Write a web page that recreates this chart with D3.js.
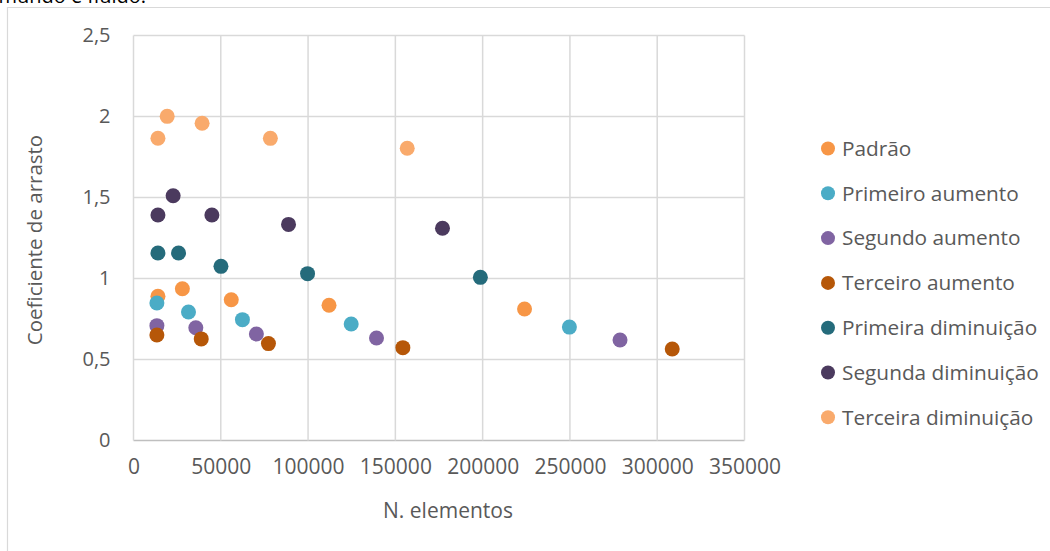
<!DOCTYPE html>
<html>
<head>
<meta charset="utf-8">
<script src="https://cdn.jsdelivr.net/npm/d3@7"></script>
<style>
  body { margin: 0; background: #fff; }
  svg text { font-family: "Open Sans", sans-serif; fill: #595959; }
</style>
</head>
<body>
<svg id="chart" width="1050" height="551"></svg>
<script>
// series names and colours
const seriesNames = ["Padrão", "Primeiro aumento", "Segundo aumento", "Terceiro aumento",
                     "Primeira diminuição", "Segunda diminuição", "Terceira diminuição"];
const seriesColors = ["#F79646", "#4BACC6", "#8064A2", "#B65708", "#256B7B", "#4B3A5E", "#F9AA6C"];

// x values (N. elementos) per series
const padraoX = [14000, 28000, 56000, 112000, 224000];
const primeiroAumentoX = [13400, 31500, 62400, 124700, 249700];
const segundoAumentoX = [13400, 35700, 70400, 139200, 278700];
const terceiroAumentoX = [13400, 38800, 77300, 154300, 308600];
const primeiraDiminuicaoX = [14000, 25800, 50100, 99700, 198700];
const segundaDiminuicaoX = [14000, 22700, 44900, 88800, 177000];
const terceiraDiminuicaoX = [14000, 19300, 39300, 78400, 156800];

// y values (coeficiente de arrasto) per series
const padraoY = [0.89, 0.937, 0.869, 0.835, 0.812];
const primeiroAumentoY = [0.849, 0.793, 0.746, 0.719, 0.70];
const segundoAumentoY = [0.709, 0.696, 0.657, 0.633, 0.62];
const terceiroAumentoY = [0.651, 0.627, 0.598, 0.573, 0.565];
const primeiraDiminuicaoY = [1.157, 1.157, 1.075, 1.03, 1.007];
const segundaDiminuicaoY = [1.392, 1.511, 1.392, 1.334, 1.31];
const terceiraDiminuicaoY = [1.866, 2.001, 1.958, 1.865, 1.804];

// tick labels
const xTicks = [0, 50000, 100000, 150000, 200000, 250000, 300000, 350000];
const yTicks = [0, 0.5, 1, 1.5, 2, 2.5];

const allX = [padraoX, primeiroAumentoX, segundoAumentoX, terceiroAumentoX,
              primeiraDiminuicaoX, segundaDiminuicaoX, terceiraDiminuicaoX];
const allY = [padraoY, primeiroAumentoY, segundoAumentoY, terceiroAumentoY,
              primeiraDiminuicaoY, segundaDiminuicaoY, terceiraDiminuicaoY];

let chart = d3.select("#chart");

// text cut off at the top of the page (only its lower part shows)
chart.append("text")
    .text("mundo e fluido.")
    .attr("x", 146)
    .attr("y", 3)
    .attr("text-anchor", "end")
    .style("font-size", "20px")
    .style("fill", "#000");

// chart area border (runs off the right and bottom)
chart.append("path")
    .attr("d", "M7.5,560 V7.5 H1060")
    .attr("fill", "none")
    .attr("stroke", "#D9D9D9")
    .attr("stroke-width", 1.2);

// scales
let x = d3.scaleLinear().domain([0, 350000]).range([133.5, 744.5]);
let y = d3.scaleLinear().domain([0, 2.5]).range([440.5, 35.5]);

// gridlines
chart.append("g")
    .selectAll("line.h")
    .data(yTicks)
    .enter().append("line")
    .attr("x1", x(0)).attr("x2", x(350000))
    .attr("y1", d => y(d)).attr("y2", d => y(d))
    .attr("stroke", d => d === 0 ? "#BFBFBF" : "#D9D9D9")
    .attr("stroke-width", 1.5);
chart.append("g")
    .selectAll("line.v")
    .data(xTicks)
    .enter().append("line")
    .attr("y1", y(0)).attr("y2", y(2.5))
    .attr("x1", d => x(d)).attr("x2", d => x(d))
    .attr("stroke", "#D9D9D9")
    .attr("stroke-width", 1.5);

// x axis labels
let xAxis = d3.axisBottom(x).tickValues(xTicks).tickSize(0).tickPadding(19)
    .tickFormat(d3.format("d"));
let xAxisGroup = chart.append("g")
    .attr("transform", "translate(0," + y(0) + ")")
    .call(xAxis);
xAxisGroup.select(".domain").remove();
xAxisGroup.selectAll("text").style("font-size", "21px").attr("font-family", null);

// y axis labels
let yAxis = d3.axisLeft(y).tickValues(yTicks).tickSize(0).tickPadding(23)
    .tickFormat(d => String(d).replace(".", ","));
let yAxisGroup = chart.append("g")
    .attr("transform", "translate(" + x(0) + ",0)")
    .call(yAxis);
yAxisGroup.select(".domain").remove();
yAxisGroup.selectAll("text").style("font-size", "20px").attr("font-family", null);

// axis titles
chart.append("text")
    .text("N. elementos")
    .attr("x", 448)
    .attr("y", 518)
    .attr("text-anchor", "middle")
    .style("font-size", "21px");
chart.append("text")
    .text("Coeficiente de arrasto")
    .attr("transform", "translate(42,240) rotate(-90)")
    .attr("text-anchor", "middle")
    .style("font-size", "20.5px");

// points
seriesNames.forEach(function (name, i) {
    let pts = allX[i].map((v, j) => ({ x: v, y: allY[i][j] }));
    chart.append("g")
        .selectAll("circle")
        .data(pts)
        .enter().append("circle")
        .attr("cx", d => x(d.x))
        .attr("cy", d => y(d.y))
        .attr("r", 7.5)
        .attr("fill", seriesColors[i]);
});

// legend
let legend = chart.append("g")
    .selectAll("g")
    .data(seriesNames)
    .enter().append("g")
    .attr("transform", (d, i) => "translate(0," + (148.5 + i * 44.8) + ")");
legend.append("circle")
    .attr("cx", 828)
    .attr("cy", 0)
    .attr("r", 7)
    .attr("fill", (d, i) => seriesColors[i]);
legend.append("text")
    .text(d => d)
    .attr("x", 842)
    .attr("y", 0)
    .attr("dy", "0.35em")
    .style("font-size", "20.8px");
</script>
</body>
</html>
